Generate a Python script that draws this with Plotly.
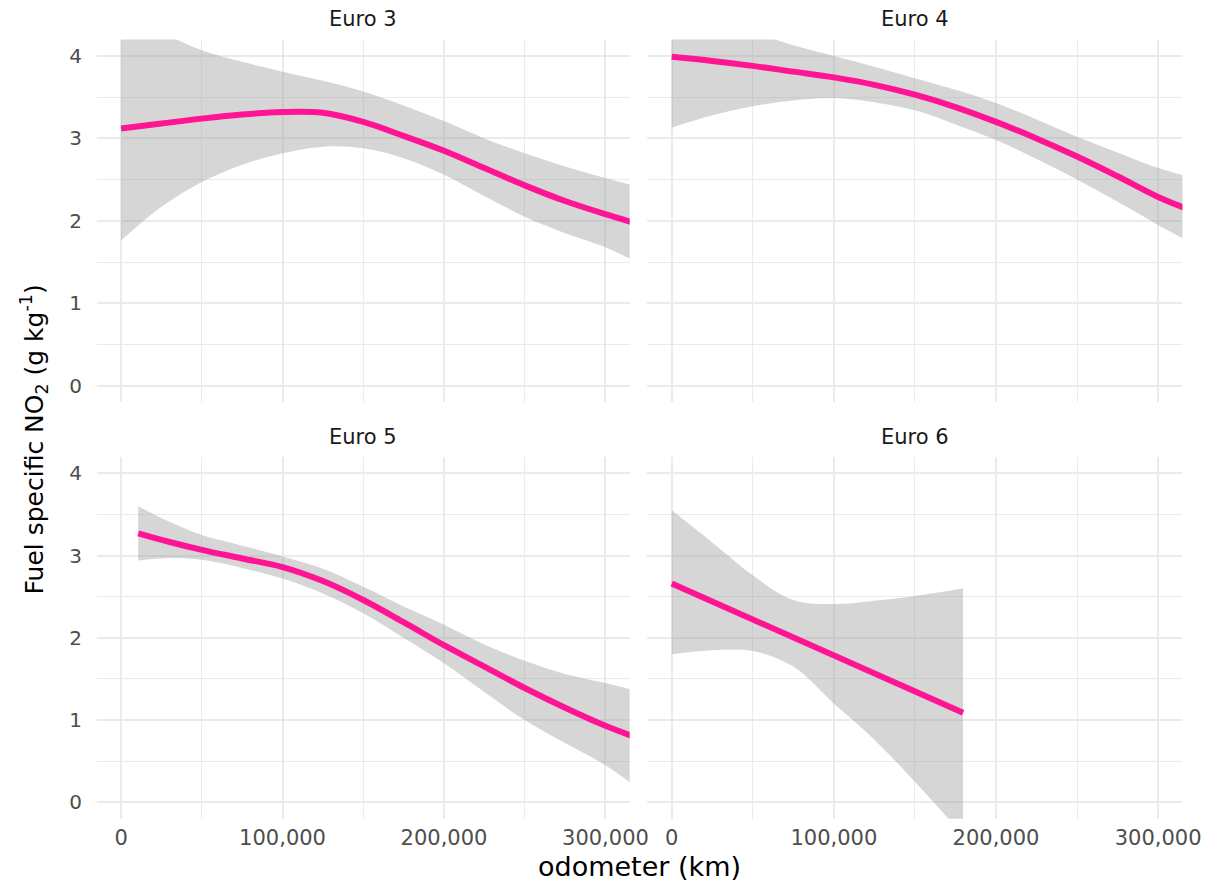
import plotly.graph_objects as go

# ---------------- data (odometer in km, NO2 in g/kg) ----------------
panels = ["Euro 3", "Euro 4", "Euro 5", "Euro 6"]

e3_x = [0, 25000, 50000, 75000, 100000, 125000, 150000, 175000, 200000, 225000, 250000, 275000, 300000, 317000]
e3_fit = [3.12, 3.18, 3.24, 3.29, 3.32, 3.31, 3.20, 3.03, 2.85, 2.64, 2.43, 2.24, 2.08, 1.98]
e3_hi = [4.45, 4.28, 4.07, 3.93, 3.81, 3.70, 3.57, 3.40, 3.21, 3.00, 2.82, 2.66, 2.52, 2.43]
e3_lo = [1.76, 2.17, 2.47, 2.68, 2.82, 2.90, 2.88, 2.76, 2.56, 2.30, 2.05, 1.85, 1.68, 1.52]

e4_x = [0, 25000, 50000, 75000, 100000, 125000, 150000, 175000, 200000, 225000, 250000, 275000, 300000, 316000]
e4_fit = [3.99, 3.94, 3.88, 3.81, 3.74, 3.65, 3.53, 3.38, 3.20, 3.00, 2.78, 2.54, 2.29, 2.16]
e4_hi = [4.62, 4.45, 4.29, 4.13, 4.00, 3.87, 3.73, 3.59, 3.43, 3.23, 3.02, 2.83, 2.64, 2.55]
e4_lo = [3.13, 3.28, 3.39, 3.46, 3.49, 3.44, 3.34, 3.17, 2.98, 2.75, 2.50, 2.23, 1.95, 1.78]

e5_x = [10600, 30000, 50000, 75000, 100000, 125000, 150000, 175000, 200000, 225000, 250000, 275000, 300000, 316000]
e5_fit = [3.27, 3.165, 3.07, 2.965, 2.86, 2.69, 2.46, 2.19, 1.91, 1.65, 1.39, 1.15, 0.93, 0.81]
e5_hi = [3.60, 3.41, 3.25, 3.12, 2.99, 2.84, 2.62, 2.38, 2.16, 1.92, 1.72, 1.56, 1.45, 1.37]
e5_lo = [2.94, 2.97, 2.95, 2.85, 2.72, 2.54, 2.30, 2.00, 1.69, 1.34, 1.00, 0.72, 0.45, 0.23]

e6_x = [0, 25000, 50000, 75000, 100000, 125000, 150000, 179700]
e6_fit = [2.66, 2.44, 2.22, 2.00, 1.79, 1.57, 1.35, 1.09]
e6_hi = [3.55, 3.16, 2.76, 2.46, 2.41, 2.45, 2.51, 2.60]
e6_lo = [1.80, 1.85, 1.84, 1.65, 1.20, 0.76, 0.25, -0.40]

x_ticks = [0, 100000, 200000, 300000]
x_tick_labels = ["0", "100,000", "200,000", "300,000"]
x_minor = [50000, 150000, 250000]
y_ticks = [0, 1, 2, 3, 4]
y_tick_labels = ["0", "1", "2", "3", "4"]
y_minor = [0.5, 1.5, 2.5, 3.5]

x_title = "odometer (km)"
y_title = "Fuel specific NO<sub>2</sub> (g kg<sup>-1</sup>)"

# ---------------- layout geometry ----------------
W, H = 1222, 885
FONT = "DejaVu Sans, Liberation Sans, Arial, sans-serif"
LINE = "#FF1493"
RIBBON = "rgba(153,153,153,0.4)"
GRID = "#EBEBEB"

x_dom_left = [98.4 / W, 639.6 / W]
x_dom_right = [657.6 / W, 1201.1 / W]
y_dom_top = [1 - 402.1 / H, 1 - 39.5 / H]
y_dom_bot = [1 - 818.75 / H, 1 - 456.9 / H]

series = [
    (e3_x, e3_fit, e3_hi, e3_lo, "spline"),
    (e4_x, e4_fit, e4_hi, e4_lo, "spline"),
    (e5_x, e5_fit, e5_hi, e5_lo, "spline"),
    (e6_x, e6_fit, e6_hi, e6_lo, "linear"),
]

fig = go.Figure()
for i, (xs, fit, hi, lo, shape) in enumerate(series):
    sfx = "" if i == 0 else str(i + 1)
    xa, ya = "x" + sfx, "y" + sfx
    fig.add_trace(go.Scatter(x=xs, y=lo, mode="lines", line=dict(width=0, shape="spline", smoothing=1.0),
                             xaxis=xa, yaxis=ya, showlegend=False, hoverinfo="skip"))
    fig.add_trace(go.Scatter(x=xs, y=hi, mode="lines", line=dict(width=0, shape="spline", smoothing=1.0),
                             fill="tonexty", fillcolor=RIBBON,
                             xaxis=xa, yaxis=ya, showlegend=False, hoverinfo="skip"))
    fig.add_trace(go.Scatter(x=xs, y=fit, mode="lines",
                             line=dict(color=LINE, width=6, shape=shape, smoothing=1.0),
                             xaxis=xa, yaxis=ya, showlegend=False))


def xaxis(domain, anchor, labels):
    return dict(domain=domain, anchor=anchor, range=[-15000, 315000],
                tickvals=x_ticks, ticktext=x_tick_labels, showticklabels=labels,
                ticks="", showline=False, zeroline=False,
                showgrid=True, gridcolor=GRID, gridwidth=1.6,
                minor=dict(tickvals=x_minor, showgrid=True, gridcolor=GRID, gridwidth=1.3, ticks=""),
                tickfont=dict(family=FONT, size=21, color="#4D4D4D"),
                ticklabelstandoff=4, fixedrange=True)


def yaxis(domain, anchor, labels):
    return dict(domain=domain, anchor=anchor, range=[-0.2, 4.2],
                tickvals=y_ticks, ticktext=y_tick_labels, showticklabels=labels,
                ticks="", showline=False, zeroline=False,
                showgrid=True, gridcolor=GRID, gridwidth=1.6,
                minor=dict(tickvals=y_minor, showgrid=True, gridcolor=GRID, gridwidth=1.3, ticks=""),
                tickfont=dict(family=FONT, size=20, color="#4D4D4D"),
                ticklabelstandoff=14, fixedrange=True)


fig.update_layout(
    width=W, height=H, autosize=False,
    margin=dict(l=0, r=0, t=0, b=0),
    paper_bgcolor="white", plot_bgcolor="white",
    showlegend=False,
    xaxis=xaxis(x_dom_left, "y", False),
    yaxis=yaxis(y_dom_top, "x", True),
    xaxis2=xaxis(x_dom_right, "y2", False),
    yaxis2=yaxis(y_dom_top, "x2", False),
    xaxis3=xaxis(x_dom_left, "y3", True),
    yaxis3=yaxis(y_dom_bot, "x3", True),
    xaxis4=xaxis(x_dom_right, "y4", True),
    yaxis4=yaxis(y_dom_bot, "x4", False),
)

strip_pos = [
    ((x_dom_left[0] + x_dom_left[1]) / 2, 1 - 19 / H),
    ((x_dom_right[0] + x_dom_right[1]) / 2, 1 - 19 / H),
    ((x_dom_left[0] + x_dom_left[1]) / 2, 1 - 437 / H),
    ((x_dom_right[0] + x_dom_right[1]) / 2, 1 - 437 / H),
]
annotations = []
for name, (px, py) in zip(panels, strip_pos):
    annotations.append(dict(text=name, x=px, y=py, xref="paper", yref="paper",
                            xanchor="center", yanchor="middle", showarrow=False,
                            font=dict(family=FONT, size=21, color="#1A1A1A")))
annotations.append(dict(text=x_title, x=650 / W, y=1 - 866 / H, xref="paper", yref="paper",
                        xanchor="center", yanchor="middle", showarrow=False,
                        font=dict(family=FONT, size=27, color="black")))
annotations.append(dict(text=y_title, x=35 / W, y=1 - 439 / H, xref="paper", yref="paper",
                        xanchor="center", yanchor="middle", showarrow=False, textangle=-90,
                        font=dict(family=FONT, size=25, color="black")))
fig.update_layout(annotations=annotations)

post = """
document.documentElement.style.overflow='hidden';
document.documentElement.style.margin='0';
document.body.style.margin='0';
document.body.style.padding='0';
document.body.style.overflow='hidden';
var gd = document.getElementById('{plot_id}');
gd.style.width = '1222px';
gd.style.height = '885px';
Plotly.relayout(gd, {width: 1222, height: 885});
"""

fig.write_html("out.html", config={"displayModeBar": False, "responsive": False},
               post_script=post)
